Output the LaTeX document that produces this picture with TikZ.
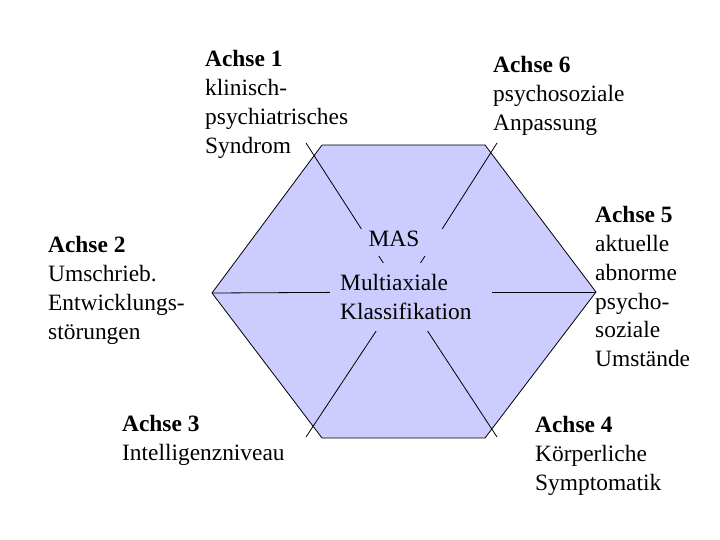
\documentclass[tikz,border=0pt]{standalone}
\usepackage{fontspec}
\setmainfont{Liberation Serif}[Ligatures=NoCommon]
\definecolor{hexfill}{HTML}{CCCCFF}
\begin{document}
\begin{tikzpicture}[x=1pt,y=-1pt,
  lbl/.style={anchor=north west,inner sep=0pt,align=left,
    font=\fontsize{23.4}{28.8}\selectfont},
  cover/.style={fill=hexfill,inner sep=0pt,font=\fontsize{23.4}{28.8}\selectfont},
  spoke/.style={draw=black,line width=0.8pt}]
\useasboundingbox (0,0) rectangle (720,540);
% hexagon vertices
\coordinate (hL) at (212,293);
\coordinate (hTL) at (322,145);
\coordinate (hTR) at (485,145);
\coordinate (hR) at (596,292);
\coordinate (hBR) at (485,438);
\coordinate (hBL) at (322,438);
\draw[fill=hexfill,line width=0.8pt] (hL) -- (hTL) -- (hTR) -- (hR) -- (hBR) -- (hBL) -- cycle;
% spokes
\coordinate (c) at (402,292);
\coordinate (eTL) at (306,143);
\coordinate (eTR) at (497,143);
\coordinate (eL) at (212,293);
\coordinate (eR) at (596,292);
\coordinate (eBL) at (306,437);
\coordinate (eBR) at (497,437);
\foreach \e in {eTL,eTR,eL,eR,eBL,eBR} \draw[spoke] (c) -- (\e);
% centre labels
\node[cover,anchor=base,minimum width=104pt,text height=17pt,text depth=10pt] (mas) at (394,246) {MAS};
\node[cover,anchor=north west,inner xsep=10pt,inner ysep=11.2pt,text width=142pt,align=left] (mk) at (330,263) {Multiaxiale\\Klassifikation};
% axis labels
\node[lbl] (a1) at (205,50.3) {\textbf{Achse 1}\\klinisch-\\psychiatrisches\\Syndrom};
\node[lbl] (a6) at (493,56.3) {\textbf{Achse 6}\\psychosoziale\\Anpassung};
\node[lbl] (a2) at (48,236.3) {\textbf{Achse 2}\\Umschrieb.\\Entwicklungs-\\störungen};
\node[lbl] (a5) at (595,206.3) {\textbf{Achse 5}\\aktuelle\\abnorme\\psycho-\\soziale\\Umstände};
\node[lbl] (a3) at (122,415.3) {\textbf{Achse 3}\\Intelligenzniveau};
\node[lbl] (a4) at (535,416.3) {\textbf{Achse 4}\\Körperliche\\Symptomatik};
\end{tikzpicture}
\end{document}
